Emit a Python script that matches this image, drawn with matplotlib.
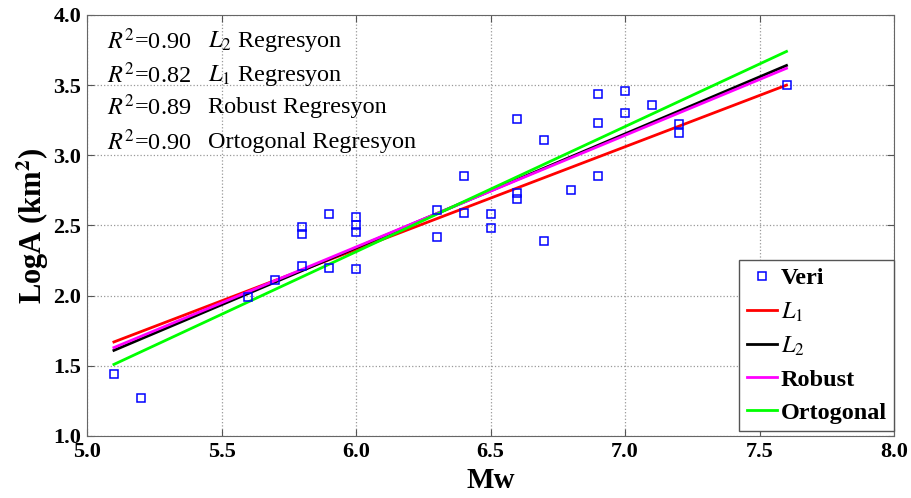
import matplotlib
matplotlib.use("Agg")
import matplotlib.pyplot as plt

# data
mw = [5.1, 5.2, 5.6, 5.7, 5.8, 5.8, 5.8, 5.9, 5.9, 6.0, 6.0, 6.0, 6.0,
      6.3, 6.3, 6.4, 6.4, 6.5, 6.5, 6.6, 6.6, 6.6, 6.7, 6.7, 6.8,
      6.9, 6.9, 6.9, 7.0, 7.0, 7.1, 7.2, 7.2, 7.6]
loga = [1.44, 1.27, 1.99, 2.11, 2.49, 2.44, 2.21, 2.58, 2.20, 2.56, 2.50, 2.45, 2.19,
        2.61, 2.42, 2.85, 2.59, 2.58, 2.48, 3.26, 2.73, 2.69, 3.11, 2.39, 2.75,
        3.44, 3.23, 2.85, 3.46, 3.30, 3.36, 3.22, 3.16, 3.50]

# regression lines (values at the ends of the data range)
fit_x = [5.1, 7.6]
fit_l1 = [1.67, 3.50]
fit_l2 = [1.61, 3.64]
fit_robust = [1.63, 3.62]
fit_orto = [1.51, 3.74]

r2_labels = [r"$R^2$=0.90", r"$R^2$=0.82", r"$R^2$=0.89", r"$R^2$=0.90"]
method_labels = [r"$L_2$ Regresyon", r"$L_1$ Regresyon", "Robust Regresyon", "Ortogonal Regresyon"]

plt.rcParams['font.family'] = ['Liberation Serif', 'DejaVu Serif']
plt.rcParams['mathtext.fontset'] = 'stix'

fig = plt.figure(figsize=(9.12, 4.98), dpi=100)
ax = fig.add_axes([0.0954, 0.1245, 0.885, 0.8455])

ax.plot(mw, loga, 's', markersize=5.5, markerfacecolor='none', markeredgecolor='#0000ff',
        markeredgewidth=1.1, label='Veri', zorder=4)
ax.plot(fit_x, fit_l1, color='#ff0000', lw=2, label='$L_1$')
ax.plot(fit_x, fit_l2, color='black', lw=2, label='$L_2$')
ax.plot(fit_x, fit_robust, color='#ff00ff', lw=2, label='Robust')
ax.plot(fit_x, fit_orto, color='#00ff00', lw=2, label='Ortogonal')

ax.set_xlim(5.0, 8.0)
ax.set_ylim(1.0, 4.0)
ax.set_xticks([5.0, 5.5, 6.0, 6.5, 7.0, 7.5, 8.0])
ax.set_yticks([1.0, 1.5, 2.0, 2.5, 3.0, 3.5, 4.0])
ax.set_xticklabels(['5.0', '5.5', '6.0', '6.5', '7.0', '7.5', '8.0'], fontsize=16, fontweight='bold')
ax.set_yticklabels(['1.0', '1.5', '2.0', '2.5', '3.0', '3.5', '4.0'], fontsize=16, fontweight='bold')
ax.tick_params(direction='in', top=True, right=True, length=5, color='#555555', pad=4)
ax.grid(True, linestyle=':', color='#999999', linewidth=0.9)
for s in ax.spines.values():
    s.set_color('#666666')

ax.set_xlabel('Mw', fontsize=21, fontweight='bold', labelpad=4)
ax.set_ylabel(r'LogA (km$^{\mathbf{2}}$)', fontsize=22, fontweight='bold', labelpad=2)

text_y = [3.81, 3.57, 3.34, 3.09]
for yy, r2, lab in zip(text_y, r2_labels, method_labels):
    ax.text(5.075, yy, r2, fontsize=17.5, va='center')
    ax.text(5.45, yy, lab, fontsize=17.5, va='center')

leg = ax.legend(loc='lower right', bbox_to_anchor=(1.0, 0.012),
                prop={'weight': 'bold', 'size': 17.5}, handlelength=1.25,
                handletextpad=0.15, borderaxespad=0.0, fancybox=False, framealpha=1,
                edgecolor='#555555', labelspacing=0.45, borderpad=0.3)
leg.get_frame().set_linewidth(1.0)

fig.savefig('out.png', dpi=100)
